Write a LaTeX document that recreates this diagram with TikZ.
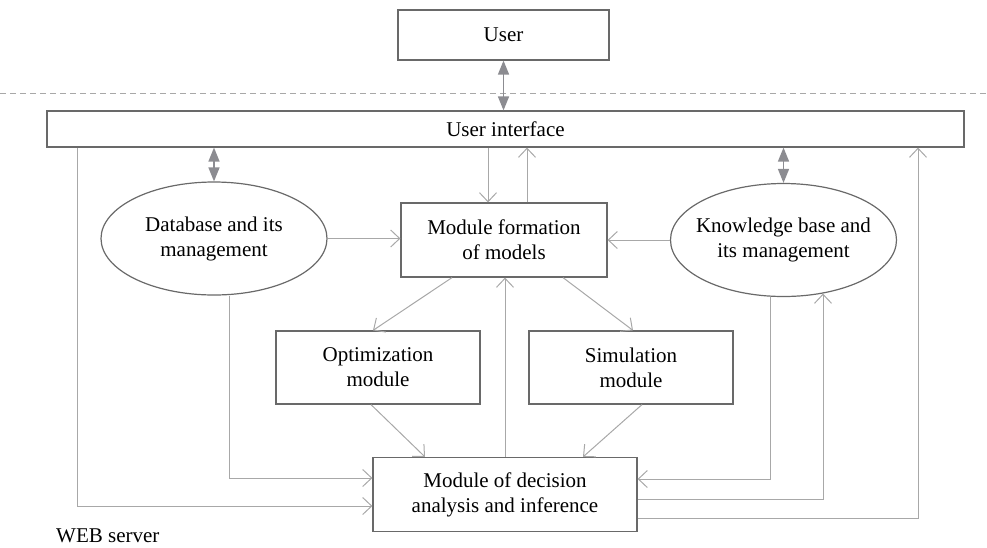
\documentclass[tikz,border=0pt]{standalone}
\usepackage{fontspec}
\setmainfont{Liberation Serif}
\usetikzlibrary{shapes.geometric,arrows.meta}

\definecolor{BoxColor}{RGB}{105,105,105}
\definecolor{LineColor}{RGB}{168,168,168}
\definecolor{LinkColor}{RGB}{140,140,145}

\tikzstyle{base}=[rectangle,
                    draw=BoxColor,
                    line width=1.2pt,
                    inner sep=0pt,
                    align=center,
                    text centered]
\tikzstyle{module}=[base, minimum width=204pt, minimum height=73pt]
\tikzstyle{store}=[base, ellipse, inner xsep=-30pt,
                    minimum width=226pt, minimum height=113pt]
\tikzstyle{flow}=[draw=LineColor, line width=1pt,
                    -{Straight Barb[length=9pt,width=17pt]}]
\tikzstyle{link}=[draw=LinkColor, line width=1.5pt,
                    {Triangle[length=14pt,width=11pt]}-{Triangle[length=14pt,width=11pt]}]
\tikzstyle{border}=[draw=LineColor, line width=1pt, dash pattern=on 6pt off 4pt]

\begin{document}
\begin{tikzpicture}[x=1pt, y=-1pt,
                    font=\fontsize{21}{25}\selectfont]

  \useasboundingbox (0,0) rectangle (987,547);

  \draw[border] (0,93) -- (987,93);

  \node at (503.5,  35.0) (user) [base, minimum width=211pt, minimum height=50pt] {User};
  \node at (505.5, 129.0) (ui)   [base, minimum width=917pt, minimum height=36pt] {User interface};
  \node at (214.0, 238.5) (db)   [store]                                          {Database and its\\management};
  \node at (783.5, 240.0) (kb)   [store]                                          {Knowledge base and\\its management};
  \node at (504.0, 240.0) (mfm)  [module, minimum width=206pt, minimum height=74pt] {Module formation\\of models};
  \node at (378.0, 367.5) (opt)  [module]                                         {Optimization\\module};
  \node at (631.0, 367.5) (sim)  [module]                                         {Simulation\\module};
  \node at (505.0, 494.5) (mda)  [module, minimum width=264pt, minimum height=74pt] {Module of decision\\analysis and inference};
  \node at ( 56.0, 542.0) (web)  [anchor=base west, inner sep=0pt]                {WEB server};

  \draw[link] (user.south)          -- (user.south |- ui.north);
  \draw[link] (db.north |- ui.south) -- (db.north);
  \draw[link] (kb.north |- ui.south) -- (kb.north);

  \draw[flow] ([xshift=-16pt]mfm.north |- ui.south) -- ([xshift=-16pt]mfm.north);
  \draw[flow] ([xshift=23pt]mfm.north)  -- ([xshift=23pt]mfm.north |- ui.south);
  \draw[flow] (db.east)                 -- (db.east -| mfm.west);
  \draw[flow] (kb.west)                 -- (kb.west -| mfm.east);
  \draw[flow] ([xshift=-52pt]mfm.south) -- ([xshift=-5pt]opt.north);
  \draw[flow] ([xshift=59pt]mfm.south)  -- ([xshift=2pt]sim.north);
  \draw[flow] ([xshift=-7pt]opt.south)  -- ([xshift=-80pt]mda.north);
  \draw[flow] ([xshift=11pt]sim.south)  -- ([xshift=78pt]mda.north);
  \draw[flow] (mda.north)               -- (mda.north |- mfm.south);
  \draw[flow] ([xshift=15pt]db.south)        |- ([yshift=16.5pt]mda.west);
  \draw[flow] ([xshift=31pt]ui.south west)   |- ([yshift=-11.5pt]mda.west);
  \draw[flow] ([xshift=-13.5pt]kb.south)     |- ([yshift=15.5pt]mda.east);
  \draw[flow] ([yshift=-4.5pt]mda.east)      -| ([xshift=39.5pt,yshift=3.5pt]kb.south);
  \draw[flow] ([yshift=-23.5pt]mda.east)     -| ([xshift=412.5pt]ui.south);
\end{tikzpicture}
\end{document}
